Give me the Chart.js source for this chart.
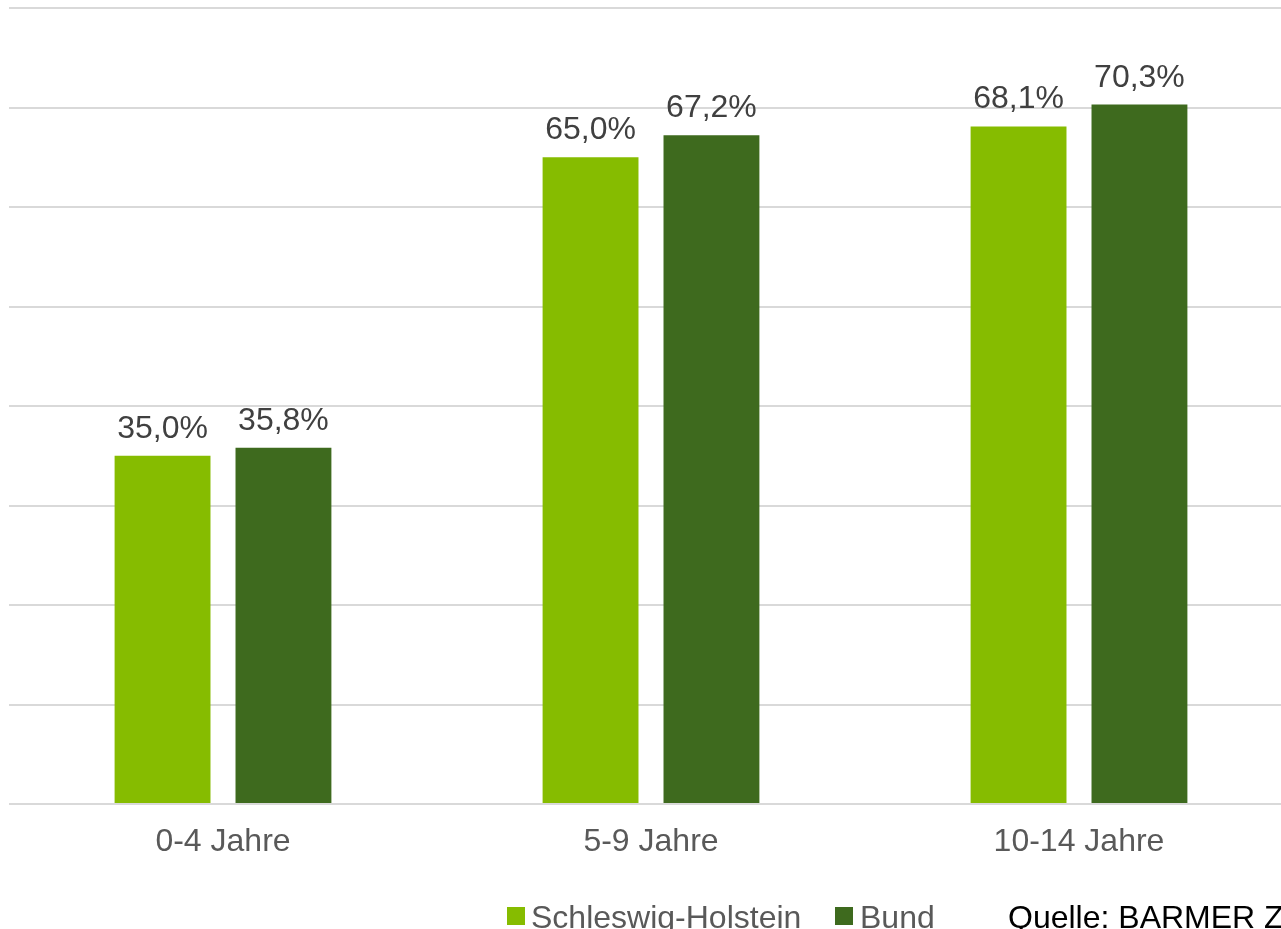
<!DOCTYPE html>
<html>
<head>
<meta charset="utf-8">
<script src="https://cdn.jsdelivr.net/npm/chart.js"></script>
<style>
  html, body { margin: 0; padding: 0; background: #fff; overflow: hidden; }
  body { width: 1281px; height: 929px; position: relative; font-family: "Liberation Sans", Arial, sans-serif; }
  #wrap { position: absolute; left: 0; top: 0; width: 1300px; height: 929px; }
  .leg { position: absolute; top: 901px; font-size: 32px; line-height: 32px; color: #595959; white-space: nowrap; }
  .box { position: absolute; top: 907px; width: 18px; height: 18px; }
</style>
</head>
<body>
<div id="wrap"><canvas id="chart" width="1300" height="929"></canvas></div>

<div class="box" style="left:507px; background:#86bc00;"></div>
<div class="leg" style="left:531px;">Schleswig-Holstein</div>
<div class="box" style="left:835px; background:#3e6a1e;"></div>
<div class="leg" style="left:860px;">Bund</div>
<div class="leg" style="left:1008px; color:#000;">Quelle: BARMER Zahnreport</div>

<script>
  var kategorien = ["0-4 Jahre", "5-9 Jahre", "10-14 Jahre"];
  var schleswigHolstein = [35.0, 65.0, 68.1];
  var bund = [35.8, 67.2, 70.3];
  var yTicks = [0, 10, 20, 30, 40, 50, 60, 70, 80];

  // Werte über den Balken
  var werteLabel = {
    id: "werteLabel",
    afterDatasetsDraw: function (chart) {
      var ctx = chart.ctx;
      ctx.save();
      ctx.font = "32px 'Liberation Sans', Arial, sans-serif";
      ctx.fillStyle = "#404040";
      ctx.textAlign = "center";
      ctx.textBaseline = "alphabetic";
      chart.data.datasets.forEach(function (ds, i) {
        chart.getDatasetMeta(i).data.forEach(function (bar, j) {
          var txt = ds.data[j].toFixed(1).replace(".", ",") + "%";
          ctx.fillText(txt, bar.x, bar.y - 18);
        });
      });
      ctx.restore();
    },
  };

  new Chart(document.getElementById("chart"), {
    type: "bar",
    data: {
      labels: kategorien,
      datasets: [
        {
          label: "Schleswig-Holstein",
          data: schleswigHolstein,
          backgroundColor: "#86bc00",
          categoryPercentage: 0.565,
          barPercentage: 0.793,
        },
        {
          label: "Bund",
          data: bund,
          backgroundColor: "#3e6a1e",
          categoryPercentage: 0.565,
          barPercentage: 0.793,
        },
      ],
    },
    options: {
      responsive: false,
      animation: false,
      devicePixelRatio: 1,
      layout: { padding: { left: 9, right: 7, top: 8, bottom: 0 } },
      plugins: { legend: { display: false }, tooltip: { enabled: false } },
      scales: {
        x: {
          grid: { display: false, drawTicks: false },
          border: { display: false },
          ticks: {
            color: "#595959",
            padding: 19,
            font: { family: "'Liberation Sans', Arial, sans-serif", size: 32 },
          },
          afterFit: function (scale) {
            scale.height = 125;
          },
        },
        y: {
          min: 0,
          max: 80,
          afterBuildTicks: function (scale) {
            scale.ticks = yTicks.map(function (v) { return { value: v }; });
          },
          grid: { color: "#d9d9d9", lineWidth: 2, drawTicks: false },
          border: { display: false },
          ticks: { display: false },
          afterFit: function (scale) {
            scale.width = 0;
          },
        },
      },
    },
    plugins: [werteLabel],
  });
</script>
</body>
</html>
